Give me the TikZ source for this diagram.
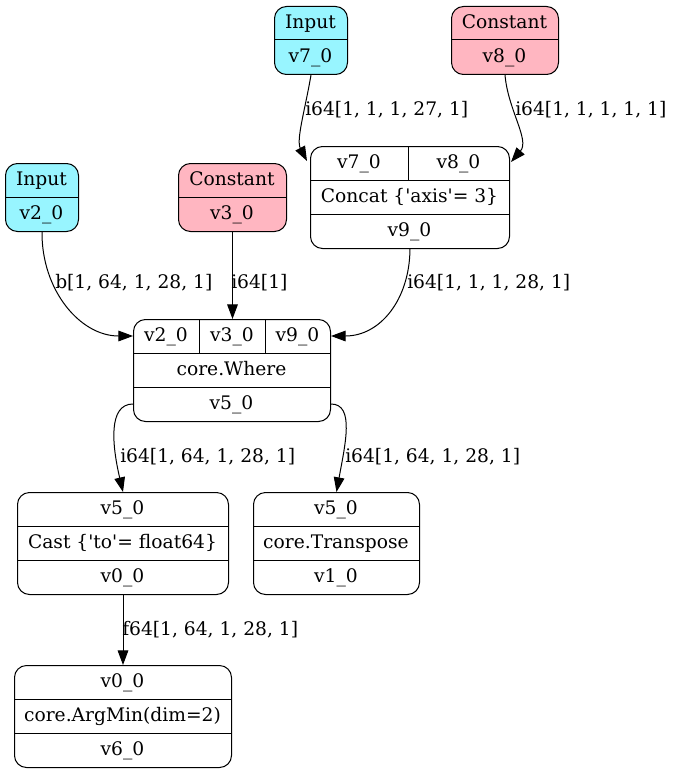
\documentclass[tikz,border=0pt]{standalone}
\usepackage{fontspec}
\setmainfont{DejaVu Serif}
\usetikzlibrary{arrows.meta}
\definecolor{inputc}{RGB}{152,245,255}
\definecolor{constc}{RGB}{255,182,193}
\begin{document}
\begin{tikzpicture}[x=0.75pt,y=-0.75pt,
  font=\fontsize{14pt}{17pt}\selectfont,
  rec/.style={draw=black,line width=0.75pt,rounded corners=9pt,inner sep=0pt,anchor=north west},
  txt/.style={inner sep=0pt,text height=10.2pt,text depth=2pt,anchor=center},
  elbl/.style={inner sep=0pt,text height=10.2pt,text depth=2pt,anchor=west},
  arr/.style={draw=black,line width=0.75pt,-{Triangle[length=11pt,width=8pt]}},
  div/.style={draw=black,line width=0.75pt}]
\useasboundingbox (0,0) rectangle (672,774);

% Input v7_0
\node[rec,fill=inputc,minimum width=54.75pt,minimum height=51pt] (in7) at (274,6) {};
\draw[div] (274,40) -- (347,40);
\node[txt] (in7a) at (310.5,23) {Input};
\node[txt] (in7b) at (310.5,57) {v7\_0};

% Constant v8_0
\node[rec,fill=constc,minimum width=80.25pt,minimum height=51pt] (c8) at (451,6) {};
\draw[div] (451,40) -- (558,40);
\node[txt] (c8a) at (504.5,23) {Constant};
\node[txt] (c8b) at (504.5,57) {v8\_0};

% Input v2_0
\node[rec,fill=inputc,minimum width=54.75pt,minimum height=51pt] (in2) at (5,163) {};
\draw[div] (5,197) -- (78,197);
\node[txt] (in2a) at (41.5,180) {Input};
\node[txt] (in2b) at (41.5,214) {v2\_0};

% Constant v3_0
\node[rec,fill=constc,minimum width=81pt,minimum height=51pt] (c3) at (178,163) {};
\draw[div] (178,197) -- (286,197);
\node[txt] (c3a) at (232,180) {Constant};
\node[txt] (c3b) at (232,214) {v3\_0};

% Concat
\node[rec,fill=white,minimum width=149.25pt,minimum height=76.5pt] (concat) at (310,146) {};
\draw[div] (310,180) -- (509,180);
\draw[div] (310,214) -- (509,214);
\draw[div] (408,146) -- (408,180);
\node[txt] (cc7) at (359,163) {v7\_0};
\node[txt] (cc8) at (458.5,163) {v8\_0};
\node[txt] (ccop) at (409.5,197) {Concat \{\textquotesingle axis\textquotesingle= 3\}};
\node[txt] (cc9) at (409.5,231) {v9\_0};

% Where
\node[rec,fill=white,minimum width=147.75pt,minimum height=76.5pt] (where) at (133,319) {};
\draw[div] (133,353) -- (330,353);
\draw[div] (133,387) -- (330,387);
\draw[div] (199,319) -- (199,353);
\draw[div] (265,319) -- (265,353);
\node[txt] (w2) at (166,336) {v2\_0};
\node[txt] (w3) at (232,336) {v3\_0};
\node[txt] (w9) at (297.5,336) {v9\_0};
\node[txt] (wop) at (231.5,370) {core.Where};
\node[txt] (w5) at (231.5,404) {v5\_0};

% Cast
\node[rec,fill=white,minimum width=158.25pt,minimum height=76.5pt] (cast) at (17,492) {};
\draw[div] (17,526) -- (228,526);
\draw[div] (17,560) -- (228,560);
\node[txt] (ca) at (122.5,509) {v5\_0};
\node[txt] (cop) at (122.5,543) {Cast \{\textquotesingle to\textquotesingle= float64\}};
\node[txt] (cb) at (122.5,577) {v0\_0};

% Transpose
\node[rec,fill=white,minimum width=124.5pt,minimum height=76.5pt] (tr) at (253,492) {};
\draw[div] (253,526) -- (419,526);
\draw[div] (253,560) -- (419,560);
\node[txt] (ta) at (336,509) {v5\_0};
\node[txt] (top) at (336,543) {core.Transpose};
\node[txt] (tb) at (336,577) {v1\_0};

% ArgMin
\node[rec,fill=white,minimum width=162.75pt,minimum height=76.5pt] (am) at (14,665) {};
\draw[div] (14,699) -- (231,699);
\draw[div] (14,733) -- (231,733);
\node[txt] (ama) at (122.5,682) {v0\_0};
\node[txt] (amop) at (122.5,716) {core.ArgMin(dim=2)};
\node[txt] (amb) at (122.5,750) {v6\_0};

% ports
\coordinate (p7) at (307,161);
\coordinate (p8) at (511,162);

% edges
\draw[arr] (in7.south) .. controls (305,110) and (296,140) .. (p7);
\draw[arr] (c8.south) .. controls (508,110) and (530,140) .. (p8);
\draw[arr] (in2.south) .. controls (41.5,290) and (80,336) .. (where.west |- w2);
\draw[arr] (c3.south) -- (c3.south |- where.north);
\draw[arr] (concat.south) .. controls (409.5,300) and (380,336) .. (where.east |- w9);
\draw[arr] (where.west |- w5) .. controls (108,404) and (112,445) .. (cast.north);
\draw[arr] (where.east |- w5) .. controls (355,404) and (345,445) .. (tr.north);
\draw[arr] (cast.south) -- (am.north);

% edge labels
\node[elbl] (l1) at (305,110) {i64[1, 1, 1, 27, 1]};
\node[elbl] (l2) at (515,110) {i64[1, 1, 1, 1, 1]};
\node[elbl] (l3) at (55,283) {b[1, 64, 1, 28, 1]};
\node[elbl] (l4) at (231,283) {i64[1]};
\node[elbl] (l5) at (407,283) {i64[1, 1, 1, 28, 1]};
\node[elbl] (l6) at (120,457) {i64[1, 64, 1, 28, 1]};
\node[elbl] (l7) at (345,457) {i64[1, 64, 1, 28, 1]};
\node[elbl] (l8) at (122,630) {f64[1, 64, 1, 28, 1]};
\end{tikzpicture}
\end{document}
